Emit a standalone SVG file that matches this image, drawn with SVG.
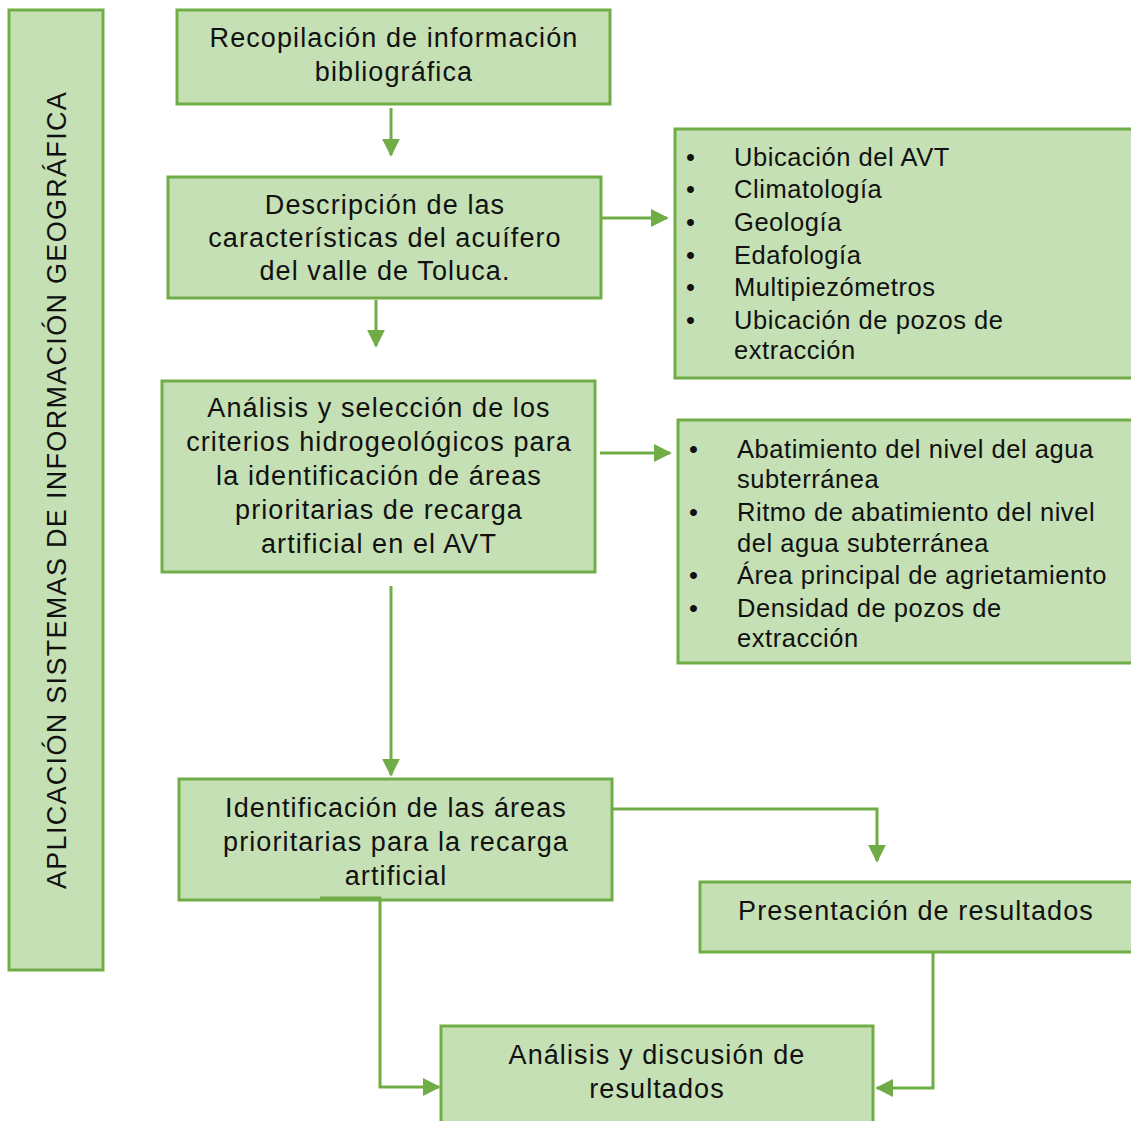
<svg xmlns="http://www.w3.org/2000/svg" width="1131" height="1121" viewBox="0 0 1131 1121">
<style>
.box{fill:#C5E0B4;stroke:#70AD47;stroke-width:3}
.t{font-family:"Liberation Sans",Arial,sans-serif;font-size:27px;letter-spacing:1.1px;fill:#111;text-anchor:middle}
.v{letter-spacing:1.3px}
.l{font-family:"Liberation Sans",Arial,sans-serif;font-size:25.5px;letter-spacing:0.55px;fill:#111}
.c{fill:none;stroke:#70AD47;stroke-width:3}
</style>
<defs>
<marker id="ah" viewBox="0 0 10 10" refX="9" refY="5" markerWidth="6" markerHeight="6" markerUnits="strokeWidth" orient="auto">
<path d="M0,0 L10,5 L0,10 z" fill="#70AD47"/>
</marker>
</defs>
<rect width="1131" height="1121" fill="#fff"/>
<g id="sig">
<rect class="box" x="9" y="10" width="94" height="960"/>
<text class="t v" transform="translate(66,490) rotate(-90)">APLICACIÓN SISTEMAS DE INFORMACIÓN GEOGRÁFICA</text>
</g>
<g id="recopilacion">
<rect class="box" x="177" y="10" width="433" height="94"/>
<text class="t" x="394" y="47">Recopilación de información</text>
<text class="t" x="394" y="81">bibliográfica</text>
</g>
<g id="descripcion">
<rect class="box" x="168" y="177" width="433" height="121"/>
<text class="t" x="385" y="214">Descripción de las</text>
<text class="t" x="385" y="247">características del acuífero</text>
<text class="t" x="385" y="280">del valle de Toluca.</text>
</g>
<g id="lista1">
<rect class="box" x="675" y="129" width="462" height="249"/>
<g class="l">
<text x="686" y="166">•</text><text x="734" y="166">Ubicación del AVT</text>
<text x="686" y="198">•</text><text x="734" y="198">Climatología</text>
<text x="686" y="231">•</text><text x="734" y="231">Geología</text>
<text x="686" y="264">•</text><text x="734" y="264">Edafología</text>
<text x="686" y="296">•</text><text x="734" y="296">Multipiezómetros</text>
<text x="686" y="329">•</text><text x="734" y="329">Ubicación de pozos de</text>
<text x="734" y="359">extracción</text>
</g>
</g>
<g id="analisis-criterios">
<rect class="box" x="162" y="381" width="433" height="191"/>
<text class="t" x="379" y="417">Análisis y selección de los</text>
<text class="t" x="379" y="451">criterios hidrogeológicos para</text>
<text class="t" x="379" y="485">la identificación de áreas</text>
<text class="t" x="379" y="519">prioritarias de recarga</text>
<text class="t" x="379" y="553">artificial en el AVT</text>
</g>
<g id="lista2">
<rect class="box" x="678" y="420" width="459" height="243"/>
<g class="l">
<text x="689" y="458">•</text><text x="737" y="458">Abatimiento del nivel del agua</text>
<text x="737" y="488">subterránea</text>
<text x="689" y="521">•</text><text x="737" y="521">Ritmo de abatimiento del nivel</text>
<text x="737" y="552">del agua subterránea</text>
<text x="689" y="584">•</text><text x="737" y="584">Área principal de agrietamiento</text>
<text x="689" y="617">•</text><text x="737" y="617">Densidad de pozos de</text>
<text x="737" y="647">extracción</text>
</g>
</g>
<g id="identificacion">
<rect class="box" x="179" y="779" width="433" height="121"/>
<text class="t" x="396" y="817">Identificación de las áreas</text>
<text class="t" x="396" y="851">prioritarias para la recarga</text>
<text class="t" x="396" y="885">artificial</text>
</g>
<g id="presentacion">
<rect class="box" x="700" y="882" width="437" height="70"/>
<text class="t" x="916" y="920">Presentación de resultados</text>
</g>
<g id="discusion">
<rect class="box" x="441" y="1026" width="432" height="100"/>
<text class="t" x="657" y="1064">Análisis y discusión de</text>
<text class="t" x="657" y="1098">resultados</text>
</g>
<g id="connectors">
<path class="c" d="M391,108 V155" marker-end="url(#ah)"/>
<path class="c" d="M601,218 H667" marker-end="url(#ah)"/>
<path class="c" d="M376,300 V346" marker-end="url(#ah)"/>
<path class="c" d="M600,453 H670" marker-end="url(#ah)"/>
<path class="c" d="M391,586 V775" marker-end="url(#ah)"/>
<path class="c" d="M612,809 H877 V861" marker-end="url(#ah)"/>
<path class="c" d="M320,898 H380 V1087 H439" marker-end="url(#ah)"/>
<path class="c" d="M933,952 V1088 H877" marker-end="url(#ah)"/>
</g>
</svg>
